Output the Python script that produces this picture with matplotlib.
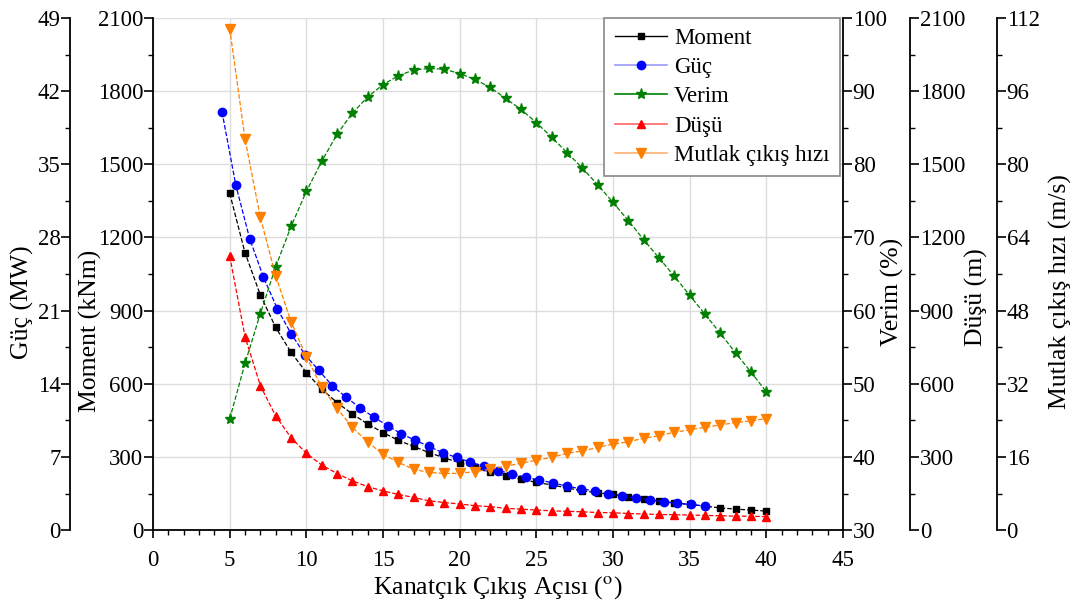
# Imports************************************************************
import matplotlib.pyplot as plt
import numpy as np
from matplotlib.lines import Line2D
from matplotlib.ticker import MultipleLocator

plt.rcParams['font.family'] = ['Liberation Serif', 'DejaVu Serif']
plt.rcParams['mathtext.fontset'] = 'stix'
plt.rcParams['font.size'] = 16.5

# Data***************************************************************
aci = list(range(5, 41))              # Kanatcik cikis acisi (derece)
aci_guc = [4.5, 5.4, 6.3, 7.2, 8.1, 9.0, 9.9, 10.8, 11.7, 12.6, 13.5, 14.4,
           15.3, 16.2, 17.1, 18.0, 18.9, 19.8, 20.7, 21.6, 22.5, 23.4, 24.3,
           25.2, 26.1, 27.0, 27.9, 28.8, 29.7, 30.6, 31.5, 32.4, 33.3, 34.2,
           35.1, 36.0]

moment = [1381, 1137, 964, 831, 729, 646, 578, 523, 476, 435, 400, 368, 343,
          318, 296, 276, 257, 239, 221, 208, 196, 185, 173, 161, 153, 146,
          137, 127, 119, 112, 105, 98, 91, 86, 82, 78]          # kNm
guc = [40.0, 33.0, 27.9, 24.2, 21.2, 18.8, 16.8, 15.3, 13.8, 12.7, 11.7, 10.8,
       10.0, 9.2, 8.6, 8.0, 7.4, 6.95, 6.5, 6.1, 5.7, 5.4, 5.05, 4.8, 4.5,
       4.2, 3.95, 3.75, 3.45, 3.25, 3.05, 2.9, 2.7, 2.55, 2.45, 2.3]  # MW
verim = [45.2, 52.8, 59.6, 66.0, 71.5, 76.3, 80.4, 84.1, 87.0, 89.2, 90.9,
         92.1, 92.9, 93.1, 93.0, 92.4, 91.6, 90.5, 89.0, 87.5, 85.7, 83.7,
         81.6, 79.5, 77.2, 74.8, 72.3, 69.7, 67.2, 64.7, 62.1, 59.5, 56.9,
         54.2, 51.6, 48.9]                                      # %
dusu = [1124, 793, 592, 468, 379, 315, 267, 232, 202, 178, 161, 146, 134, 120,
        113, 107, 100, 96, 89, 86, 82, 79, 77, 75, 72, 71, 68, 66, 64, 63, 62,
        60, 59, 57, 57, 55]                                     # m
hiz = [109.7, 85.5, 68.4, 55.6, 45.6, 37.9, 31.3, 26.6, 22.5, 19.2, 16.6, 14.8,
       13.3, 12.6, 12.4, 12.4, 12.8, 13.3, 14.0, 14.6, 15.3, 15.9, 16.8, 17.3,
       18.1, 18.8, 19.3, 20.1, 20.6, 21.4, 21.9, 22.5, 23.0, 23.5, 23.9, 24.4]  # m/s

# Figure*************************************************************
fig = plt.figure(figsize=(10.74, 6.1), dpi=100)
ax = fig.add_axes([0.1425, 0.131, 0.6424, 0.8395])
ax_guc = ax.twinx()
ax_verim = ax.twinx()
ax_dusu = ax.twinx()
ax_hiz = ax.twinx()


def setup_axis(a, side, pos, lim, step, label, lx, ly):
    '''Puts one y axis on the given side with its own spine position.'''
    for s in ['top', 'bottom', 'left', 'right']:
        a.spines[s].set_visible(False)
    a.spines[side].set_visible(True)
    a.spines[side].set_position(('axes', pos))
    a.spines[side].set_linewidth(1.3)
    a.yaxis.set_ticks_position(side)
    a.yaxis.set_label_position(side)
    a.set_ylim(lim)
    a.yaxis.set_major_locator(MultipleLocator(step))
    a.yaxis.set_minor_locator(MultipleLocator(step / 2))
    a.tick_params(axis='y', which='major', direction='out', length=6.5, width=1.2, pad=0.5)
    a.tick_params(axis='y', which='minor', direction='out', length=3.5, width=1.0)
    a.set_ylabel(label, fontsize=18.5)
    a.yaxis.set_label_coords(lx, ly)
    a.yaxis.label.set_verticalalignment('center')


setup_axis(ax, 'left', 0.0, (0, 2100), 300, 'Moment (kNm)', -0.091, 0.389)
setup_axis(ax_guc, 'left', -0.12, (0, 49), 7, 'Güç (MW)', -0.19, 0.445)
setup_axis(ax_verim, 'right', 1.0, (30, 100), 10, 'Verim (%)', 1.071, 0.465)
setup_axis(ax_dusu, 'right', 1.097, (0, 2100), 300, 'Düşü (m)', 1.194, 0.455)
setup_axis(ax_hiz, 'right', 1.223, (0, 112), 16, 'Mutlak çıkış hızı (m/s)', 1.3145, 0.465)

ax.spines['bottom'].set_visible(True)
ax.spines['bottom'].set_linewidth(1.3)
ax.set_xlim(0, 45)
ax.xaxis.set_major_locator(MultipleLocator(5))
ax.xaxis.set_minor_locator(MultipleLocator(1))
ax.tick_params(axis='x', which='major', direction='out', length=6, width=1.2, pad=8)
ax.tick_params(axis='x', which='minor', direction='out', length=3.5, width=1.0)
ax.set_xlabel('Kanatçık Çıkış Açısı ($^{\\rm o}$)', fontsize=18.5)
ax.xaxis.set_label_coords(0.5, -0.113)
ax.xaxis.label.set_verticalalignment('center')
ax.grid(True, which='major', color='#dddddd', linewidth=1.0)

# Series*************************************************************
ax.plot(aci, moment, color='black', ls='--', lw=0.9, marker='s', ms=5)
ax_guc.plot(aci_guc, guc, color='blue', ls='--', lw=0.9, marker='o', ms=6)
ax_verim.plot(aci, verim, color='green', ls='--', lw=0.9, marker='*', ms=8)
ax_dusu.plot(aci, dusu, color='red', ls='--', lw=0.9, marker='^', ms=6)
ax_hiz.plot(aci, hiz, color='#ff8000', ls='--', lw=0.9, marker='v', ms=6.5)

handles = [
    Line2D([], [], color='black', lw=1, marker='s', ms=5, label='Moment'),
    Line2D([], [], color='#9999ff', lw=1.2, marker='o', mfc='blue', mec='blue', ms=6, label='Güç'),
    Line2D([], [], color='green', lw=1.2, marker='*', ms=8, label='Verim'),
    Line2D([], [], color='#ff6666', lw=1.2, marker='^', mfc='red', mec='red', ms=6, label='Düşü'),
    Line2D([], [], color='#ffb070', lw=1.2, marker='v', mfc='#ff8000', mec='#ff8000', ms=6.5,
           label='Mutlak çıkış hızı'),
]
leg = ax_hiz.legend(handles=handles, loc='upper right', bbox_to_anchor=(0.9957, 1.0),
                    borderaxespad=0, fancybox=False, framealpha=1, edgecolor='#888888',
                    handlelength=2.3, labelspacing=0.35, borderpad=0.45,
                    handletextpad=0.3, fontsize=16.5)
leg.get_frame().set_linewidth(1.2)

fig.savefig('out.png', dpi=100)
